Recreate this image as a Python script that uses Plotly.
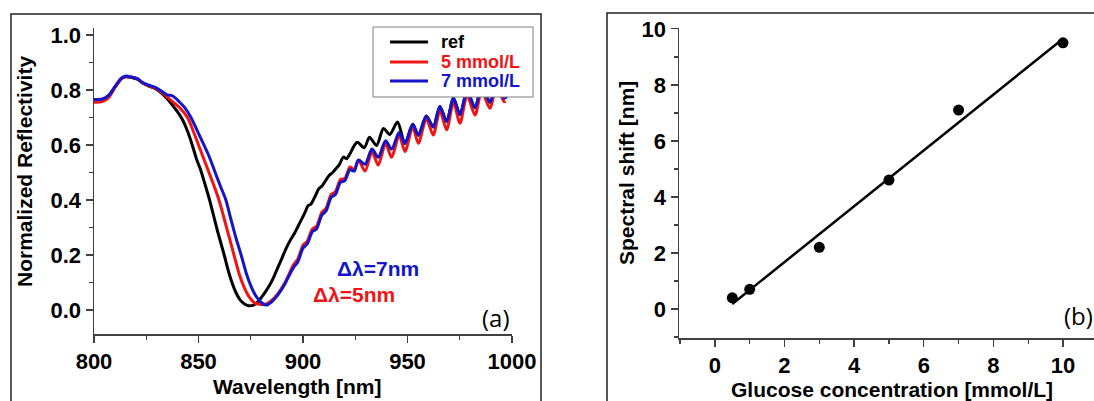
import numpy as np
import plotly.graph_objects as go

# ---------------- data: panel (a) spectra ----------------
wl_ref = [800, 804, 807, 810, 813, 815, 818, 821, 823, 826, 829, 832, 835, 838, 840, 842.5, 845, 847, 849, 851,
          853, 855.3, 857, 859, 862.3, 864, 866, 868, 870, 872, 874, 876, 878, 880, 882, 884, 886, 888, 890, 892,
          894, 896, 898, 900.8, 902.5, 903.8, 905.9, 907.5, 909.2, 910.8, 912.6, 914.2, 915.9, 917.5, 919.3, 920.8,
          922.6, 924.3, 926, 929.3, 931.8, 935.2, 938.5, 941.5, 945.2, 948.8, 952.5, 955.2, 959, 962.3, 965.5,
          968.7, 972, 975.1, 978.5, 982.3, 985.5, 989.5, 992.5, 996.5]
r_ref = [0.762, 0.765, 0.778, 0.81, 0.84, 0.848, 0.845, 0.838, 0.826, 0.815, 0.806, 0.79, 0.768, 0.74, 0.72, 0.69,
         0.645, 0.60, 0.55, 0.51, 0.46, 0.40, 0.35, 0.29, 0.20, 0.15, 0.10, 0.062, 0.036, 0.022, 0.016, 0.017,
         0.027, 0.045, 0.066, 0.09, 0.12, 0.155, 0.19, 0.225, 0.255, 0.28, 0.31, 0.352, 0.38, 0.385, 0.415, 0.44,
         0.452, 0.47, 0.49, 0.50, 0.515, 0.53, 0.556, 0.55, 0.57, 0.595, 0.61, 0.59, 0.628, 0.598, 0.66, 0.638,
         0.683, 0.605, 0.675, 0.635, 0.705, 0.665, 0.74, 0.685, 0.77, 0.71, 0.795, 0.735, 0.81, 0.755, 0.82, 0.77]

wl_5 = [800, 804, 807, 810, 813, 815, 818, 821, 823, 826, 829, 832, 835, 838, 841, 844.7, 847.5, 850, 852.5, 855,
        857.5, 859.8, 862, 864.5, 867, 869.5, 872, 874.5, 877, 880, 882.5, 885, 888, 891, 893, 895.5, 897.5, 900,
        902, 904.5, 906.5, 909, 911, 913.5, 915.5, 918, 920, 922.5, 924.5, 926.5, 929.7, 933, 936, 939.5, 942.4,
        946, 948.8, 952.5, 955.2, 959, 962.3, 965.5, 968.7, 972, 975.1, 978.5, 982.3, 985.5, 989.5, 992.5, 996.2,
        996.8]
r_5 = [0.755, 0.758, 0.772, 0.808, 0.84, 0.848, 0.846, 0.839, 0.827, 0.816, 0.807, 0.793, 0.775, 0.755, 0.735,
       0.70, 0.65, 0.60, 0.55, 0.50, 0.45, 0.40, 0.34, 0.27, 0.20, 0.13, 0.08, 0.045, 0.025, 0.02, 0.022, 0.035,
       0.06, 0.095, 0.125, 0.165, 0.185, 0.235, 0.25, 0.295, 0.305, 0.355, 0.37, 0.42, 0.43, 0.475, 0.478, 0.52,
       0.51, 0.545, 0.505, 0.575, 0.527, 0.605, 0.555, 0.635, 0.576, 0.665, 0.606, 0.695, 0.636, 0.725, 0.655,
       0.755, 0.679, 0.78, 0.709, 0.795, 0.733, 0.81, 0.757, 0.76]

wl_7 = [800, 804, 807, 810, 813, 815, 818, 821, 823, 826, 829, 832, 835, 837, 839, 841, 843.5, 846.4, 849.5, 852.6,
        855, 858, 860.5, 863.1, 865.5, 868, 870.4, 873, 875.5, 878, 880.5, 882.5, 885, 888, 891, 893, 895.5, 897.5,
        900, 902, 904.5, 906.5, 909, 911, 913.5, 915.5, 918, 920, 922.5, 924.5, 926.5, 929.7, 933, 936, 939.5,
        942.4, 946, 948.8, 952.5, 955.2, 959, 962.3, 965.5, 968.7, 972, 975.1, 978.5, 982.3, 985.5, 989.5, 992.5,
        996.2, 997.5]
r_7 = [0.765, 0.767, 0.78, 0.812, 0.842, 0.85, 0.847, 0.84, 0.828, 0.818, 0.81, 0.797, 0.782, 0.78, 0.77, 0.755,
       0.735, 0.70, 0.65, 0.60, 0.56, 0.50, 0.45, 0.40, 0.33, 0.26, 0.20, 0.13, 0.08, 0.045, 0.025, 0.018, 0.03,
       0.055, 0.09, 0.12, 0.155, 0.175, 0.225, 0.24, 0.285, 0.295, 0.345, 0.36, 0.41, 0.42, 0.465, 0.47, 0.51,
       0.505, 0.545, 0.53, 0.585, 0.555, 0.615, 0.585, 0.645, 0.605, 0.675, 0.635, 0.705, 0.665, 0.74, 0.685,
       0.77, 0.71, 0.795, 0.735, 0.81, 0.755, 0.82, 0.77, 0.775]

series_names = ["ref", "5 mmol/L", "7 mmol/L"]

# ---------------- data: panel (b) ----------------
conc = [0.5, 1, 3, 5, 7, 10]
shift = [0.4, 0.7, 2.2, 4.6, 7.1, 9.5]

x_ticks_a = [800, 850, 900, 950, 1000]
y_ticks_a = [0.0, 0.2, 0.4, 0.6, 0.8, 1.0]
x_ticks_b = [0, 2, 4, 6, 8, 10]
y_ticks_b = [0, 2, 4, 6, 8, 10]

W, H = 1094, 401
def px(x):
    return x / W
def py(y):
    return 1 - y / H

RED = "#f01414"
BLUE = "#1414c8"
COLORS = ["black", RED, BLUE]
FONT = "Liberation Sans"

fig = go.Figure()
for wl, r, nm, c in zip([wl_ref, wl_5, wl_7], [r_ref, r_5, r_7], series_names, COLORS):
    fig.add_trace(go.Scatter(x=wl, y=r, mode="lines", name=nm, showlegend=False,
                             line=dict(color=c, width=3, shape="spline", smoothing=0.8)))

coef = np.polyfit(conc, shift, 1)
fit_x = [min(conc), max(conc)]
fit_y = list(np.polyval(coef, fit_x))
fig.add_trace(go.Scatter(x=fit_x, y=fit_y, mode="lines", showlegend=False,
                         line=dict(color="black", width=2.5), xaxis="x2", yaxis="y2"))
fig.add_trace(go.Scatter(x=conc, y=shift, mode="markers", showlegend=False,
                         marker=dict(color="black", size=11), xaxis="x2", yaxis="y2"))

tickfont = dict(family=FONT, size=22, color="black", weight="bold")
axcommon = dict(showline=True, linecolor="#404040", linewidth=1.5, ticks="outside", ticklen=7,
                tickwidth=1.3, tickcolor="#404040", showgrid=False, zeroline=False, tickfont=tickfont,
                automargin=False, mirror=False)

fig.update_layout(
    template="none",
    width=W, height=H, margin=dict(l=0, r=0, t=0, b=0, pad=0), autosize=False,
    paper_bgcolor="white", plot_bgcolor="white",
    xaxis=dict(domain=[px(94), px(512)], range=[800, 1000], tickvals=x_ticks_a,
               minor=dict(dtick=25, ticklen=4, tickcolor="#404040", ticks="outside"),
               anchor="y", **axcommon),
    yaxis=dict(domain=[py(334), py(28)], range=[-0.087, 1.025], tickvals=y_ticks_a, tickformat=".1f",
               minor=dict(dtick=0.1, ticklen=4, tickcolor="#404040", ticks="outside"),
               anchor="x", **axcommon),
    xaxis2=dict(domain=[px(679), 1.0], range=[-1.03, 10.89], tickvals=x_ticks_b,
                minor=dict(dtick=1, ticklen=4, tickcolor="#404040", ticks="outside"),
                anchor="y2", **axcommon),
    yaxis2=dict(domain=[py(338), py(28)], range=[-1.036, 10.03], tickvals=y_ticks_b,
                minor=dict(dtick=1, ticklen=4, tickcolor="#404040", ticks="outside"),
                anchor="x2", **axcommon),
    showlegend=False,
)

# panel frames
fig.add_shape(type="rect", xref="paper", yref="paper", x0=px(11), x1=px(541), y0=py(420), y1=py(14),
              line=dict(color="#222222", width=1.5), layer="below")
fig.add_shape(type="rect", xref="paper", yref="paper", x0=px(607), x1=px(1110), y0=py(420), y1=py(13),
              line=dict(color="#222222", width=1.5), layer="below")

# legend box (panel a)
fig.add_shape(type="rect", xref="paper", yref="paper", x0=px(373), x1=px(533), y0=py(97), y1=py(27),
              line=dict(color="#808080", width=1), fillcolor="white", layer="above")
leg_y = [42, 62, 81]
for yy, nm, c in zip(leg_y, series_names, COLORS):
    fig.add_shape(type="line", xref="paper", yref="paper", x0=px(390), x1=px(428), y0=py(yy), y1=py(yy),
                  line=dict(color=c, width=3), layer="above")
    fig.add_annotation(xref="paper", yref="paper", x=px(439), y=py(yy), xanchor="left", yanchor="middle",
                       text=nm, showarrow=False,
                       font=dict(family=FONT, size=18, color=c, weight="bold"))

bold = dict(family=FONT, size=21, color="black", weight="bold")
ann = [
    dict(text="Normalized Reflectivity", x=px(25), y=py(172), textangle=-90, font=bold),
    dict(text="Wavelength [nm]", x=px(297), y=py(386), font=bold),
    dict(text="Spectral shift [nm]", x=px(626), y=py(173), textangle=-90, font=bold),
    dict(text="Glucose concentration [mmol/L]", x=px(892), y=py(389), font=bold),
    dict(text="Δλ=7nm", x=px(378), y=py(268), font=dict(family=FONT, size=21, color=BLUE, weight="bold")),
    dict(text="Δλ=5nm", x=px(354), y=py(294), font=dict(family=FONT, size=21, color=RED, weight="bold")),
    dict(text="(a)", x=px(496), y=py(317), font=dict(family="Open Sans", size=24, color="black")),
    dict(text="(b)", x=px(1062), y=py(315), xanchor="left", font=dict(family="Open Sans", size=24, color="black")),
]
for a in ann:
    a.setdefault("xanchor", "center")
    fig.add_annotation(xref="paper", yref="paper", yanchor="middle", showarrow=False, **a)

fig.write_html("out.html", config={"displayModeBar": False, "staticPlot": True},
               post_script="document.body.style.margin='0';document.body.style.padding='0';"
                           "document.documentElement.style.overflow='hidden';")
